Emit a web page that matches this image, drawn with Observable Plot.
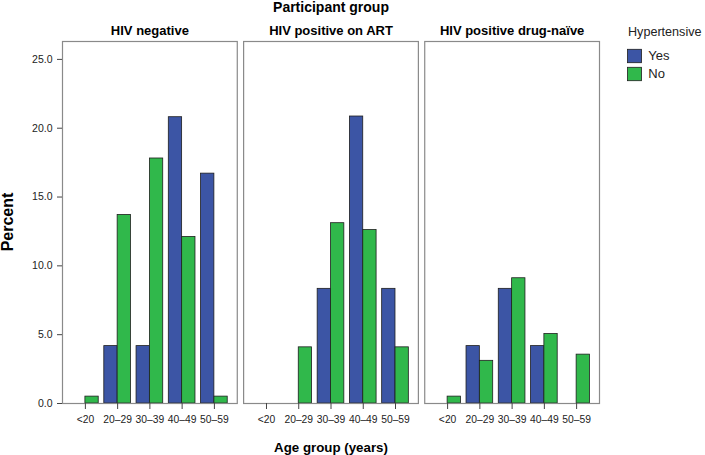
<!DOCTYPE html>
<html><head><meta charset="utf-8">
<script src="https://cdn.jsdelivr.net/npm/d3@7"></script>
<script src="https://cdn.jsdelivr.net/npm/@observablehq/plot@0.6"></script>
<style>body{margin:0;background:#fff;font-family:"Liberation Sans",Arial,sans-serif}</style>
</head><body><div id="chart"></div>
<script>
const groups = ["HIV negative", "HIV positive on ART", "HIV positive drug-naïve"];
const ages = ["<20", "20–29", "30–39", "40–49", "50–59"];
const hypertensive = ["Yes", "No"];
const hivNegativeYes = [0, 4.17, 4.17, 20.8, 16.7];
const hivNegativeNo = [0.5, 13.7, 17.8, 12.1, 0.5];
const onArtYes = [0, 0, 8.33, 20.85, 8.33];
const onArtNo = [0, 4.08, 13.1, 12.6, 4.08];
const drugNaiveYes = [0, 4.17, 8.33, 4.17, 0];
const drugNaiveNo = [0.5, 3.1, 9.1, 5.05, 3.55];
const yTicks = [0, 5, 10, 15, 20, 25];
const colors = ["#3c55a5", "#30b84b"];

const series = [[hivNegativeYes, hivNegativeNo], [onArtYes, onArtNo], [drugNaiveYes, drugNaiveNo]];
const rows = [];
groups.forEach((g, gi) => hypertensive.forEach((h, hi) => ages.forEach((a, ai) =>
  rows.push({group: g, hyp: h, age: a, value: series[gi][hi][ai]}))));

const half = 13.35;
const font = "'Liberation Sans', Arial, sans-serif";
const plot = Plot.plot({
  width: 705, height: 455,
  marginLeft: 62, marginRight: 106, marginTop: 41, marginBottom: 52,
  style: {fontFamily: font, fontSize: "10px", color: "#222", background: "#fff"},
  fx: {domain: groups, paddingInner: 0.035, paddingOuter: 0, round: false},
  x: {domain: ages, paddingInner: 0.173, paddingOuter: 0.296, round: false},
  y: {domain: [0, 26.3]},
  color: {domain: hypertensive, range: colors},
  marks: [
    Plot.barY(rows.filter(d => d.hyp === "Yes" && d.value > 0), {fx: "group", x: "age", y: "value", fill: "hyp", stroke: "#1e1e1e", strokeWidth: 0.8, insetLeft: 0, insetRight: half}),
    Plot.barY(rows.filter(d => d.hyp === "No" && d.value > 0), {fx: "group", x: "age", y: "value", fill: "hyp", stroke: "#1e1e1e", strokeWidth: 0.8, insetLeft: half, insetRight: 0}),
    Plot.frame({stroke: "#8a8a8a", strokeWidth: 1.2}),
    Plot.axisY({ticks: yTicks, tickFormat: d3.format(".1f"), tickSize: 5, tickPadding: 5, label: null, fontSize: 10.5, stroke: "#444"}),
    Plot.axisX({tickSize: 6, tickPadding: 6, label: null, fontSize: 10.3, stroke: "#444"}),
    Plot.axisFx({anchor: "top", tickSize: 0, tickPadding: 6.5, label: null, fontSize: 13, fontWeight: "bold", fill: "#000"})
  ]
});
document.getElementById("chart").append(plot);

const svg = d3.select(plot);
const t = svg.append("g").attr("font-family", font).attr("fill", "#000");
t.append("text").attr("x", 331).attr("y", 12).attr("text-anchor", "middle")
  .attr("font-weight", "bold").attr("font-size", 14).text("Participant group");
t.append("text").attr("x", 331).attr("y", 451.5).attr("text-anchor", "middle")
  .attr("font-weight", "bold").attr("font-size", 13.3).text("Age group (years)");
t.append("text").attr("transform", "translate(13,222) rotate(-90)").attr("text-anchor", "middle")
  .attr("font-weight", "bold").attr("font-size", 16).text("Percent");

const lg = svg.append("g").attr("font-family", font).attr("fill", "#222").attr("text-anchor", "start");
lg.append("text").attr("x", 628).attr("y", 35.5).attr("font-size", 12.6).text("Hypertensive");
hypertensive.forEach((h, i) => {
  lg.append("rect").attr("x", 627.5).attr("y", 49.3 + i * 18).attr("width", 14).attr("height", 13.4)
    .attr("fill", colors[i]).attr("stroke", "#1e1e1e").attr("stroke-width", 0.8);
  lg.append("text").attr("x", 648.3).attr("y", 59.6 + i * 18).attr("font-size", 13).text(h);
});
</script></body></html>
